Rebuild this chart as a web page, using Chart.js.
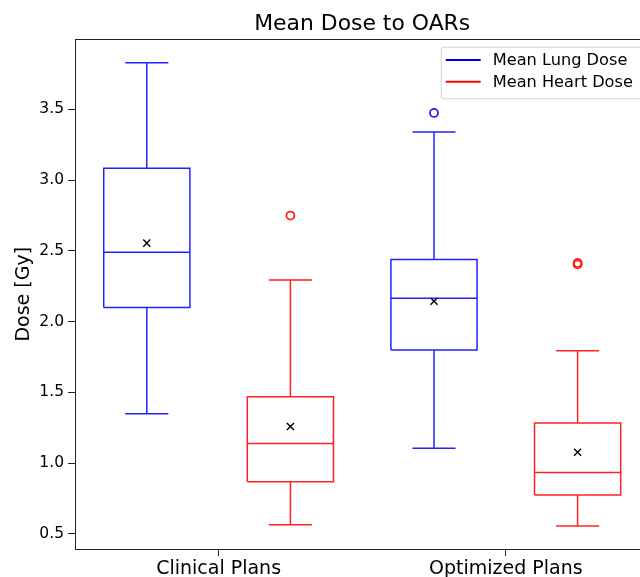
<!DOCTYPE html>
<html>
<head>
<meta charset="utf-8">
<script src="https://cdn.jsdelivr.net/npm/chart.js@4/dist/chart.umd.min.js"></script>
<style>
	body { margin: 0; overflow: hidden; background: #fff; }
	#wrap { position: absolute; left: 0; top: 0; width: 650px; height: 577px; }
</style>
</head>
<body>
<div id="wrap"><canvas id="mycanvas" width="650" height="577"></canvas></div>
<script>
var categories = ['Clinical Plans', 'Optimized Plans'];
var seriesNames = ['Mean Lung Dose', 'Mean Heart Dose'];
var yTicks = [0.5, 1.0, 1.5, 2.0, 2.5, 3.0, 3.5];

// box stats per category
var lungLow = [1.35, 1.105];
var lungQ1 = [2.10, 1.80];
var lungMedian = [2.49, 2.165];
var lungQ3 = [3.085, 2.44];
var lungHigh = [3.83, 3.34];
var lungMean = [2.555, 2.145];
var lungOutliers = [[], [3.475]];

var heartLow = [0.565, 0.557];
var heartQ1 = [0.87, 0.775];
var heartMedian = [1.14, 0.935];
var heartQ3 = [1.47, 1.285];
var heartHigh = [2.295, 1.795];
var heartMean = [1.26, 1.078];
var heartOutliers = [[2.75], [2.405, 2.415]];

var FONT = "'DejaVu Sans', sans-serif";
var BOX_W = 0.15;
var CAP_W = 0.075;

function boxOutline(low, q1, med, q3, high, offset) {
	var pts = [];
	for (var i = 0; i < categories.length; i++) {
		var p = i + 1 + offset;
		pts.push({x: p - BOX_W, y: q1[i]}, {x: p + BOX_W, y: q1[i]}, {x: p + BOX_W, y: q3[i]}, {x: p - BOX_W, y: q3[i]}, {x: p - BOX_W, y: q1[i]}, {x: p, y: null});
		pts.push({x: p - BOX_W, y: med[i]}, {x: p + BOX_W, y: med[i]}, {x: p, y: null});
		pts.push({x: p, y: q1[i]}, {x: p, y: low[i]}, {x: p, y: null});
		pts.push({x: p - CAP_W, y: low[i]}, {x: p + CAP_W, y: low[i]}, {x: p, y: null});
		pts.push({x: p, y: q3[i]}, {x: p, y: high[i]}, {x: p, y: null});
		pts.push({x: p - CAP_W, y: high[i]}, {x: p + CAP_W, y: high[i]}, {x: p, y: null});
	}
	return pts;
}

function points(values, offset) {
	var pts = [];
	for (var i = 0; i < categories.length; i++) {
		pts.push({x: i + 1 + offset, y: values[i]});
	}
	return pts;
}

function outlierPoints(list, offset) {
	var pts = [];
	for (var i = 0; i < list.length; i++) {
		for (var j = 0; j < list[i].length; j++) {
			pts.push({x: i + 1 + offset, y: list[i][j]});
		}
	}
	return pts;
}

function outlineSet(label, data, color, legendColor) {
	return {
		label: label, data: data, showLine: true, spanGaps: false, fill: false,
		borderColor: color, borderWidth: 1.5, pointRadius: 0, pointHitRadius: 0,
		borderJoinStyle: 'miter', legendColor: legendColor
	};
}

var framePlugin = {
	id: 'frame',
	afterDatasetsDraw: function(chart) {
		var a = chart.chartArea, ctx = chart.ctx;
		ctx.save();
		ctx.strokeStyle = '#222';
		ctx.lineWidth = 1;
		ctx.strokeRect(Math.round(a.left) + 0.5, Math.round(a.top) + 0.5, Math.round(a.right - a.left), Math.round(a.bottom - a.top));
		ctx.restore();
	}
};

var legendPlugin = {
	id: 'boxLegend',
	afterDraw: function(chart) {
		var a = chart.chartArea, ctx = chart.ctx;
		var sets = chart.data.datasets.filter(function(d) { return d.legendColor; });
		var right = a.right - 8.4, top = a.top + 7.2;
		var left = 440.7, rowH = 21.7;
		var h = 51.6;
		ctx.save();
		ctx.fillStyle = 'rgba(255,255,255,0.8)';
		ctx.strokeStyle = '#d0d0d0';
		ctx.lineWidth = 1;
		ctx.beginPath();
		ctx.roundRect(left + 0.5, top + 0.5, right - left, h, 3);
		ctx.fill();
		ctx.stroke();
		ctx.font = '16.2px ' + FONT;
		ctx.textBaseline = 'middle';
		ctx.fillStyle = '#000';
		for (var i = 0; i < sets.length; i++) {
			var y = top + 13.3 + i * rowH;
			ctx.strokeStyle = sets[i].legendColor;
			ctx.lineWidth = 2;
			ctx.beginPath();
			ctx.moveTo(left + 5, y);
			ctx.lineTo(left + 40, y);
			ctx.stroke();
			ctx.fillText(sets[i].label, left + 52, y + 1);
		}
		ctx.restore();
	}
};

var datasets = [
	outlineSet(seriesNames[0], boxOutline(lungLow, lungQ1, lungMedian, lungQ3, lungHigh, -0.25), 'rgba(10,10,255,0.9)', '#0000dd'),
	outlineSet(seriesNames[1], boxOutline(heartLow, heartQ1, heartMedian, heartQ3, heartHigh, 0.25), 'rgba(255,10,10,0.9)', '#ff0000'),
	{
		label: 'lung outliers', data: outlierPoints(lungOutliers, -0.25), pointStyle: 'circle', pointRadius: 4,
		backgroundColor: 'rgba(0,0,0,0)', borderColor: 'rgba(10,10,255,0.9)', borderWidth: 1.8
	},
	{
		label: 'heart outliers', data: outlierPoints(heartOutliers, 0.25), pointStyle: 'circle', pointRadius: 4,
		backgroundColor: 'rgba(0,0,0,0)', borderColor: 'rgba(255,10,10,0.9)', borderWidth: 1.8
	},
	{
		label: 'means', data: points(lungMean, -0.25).concat(points(heartMean, 0.25)), pointStyle: 'crossRot',
		pointRadius: 5, borderColor: '#000', borderWidth: 1.4
	}
];

var ctx = document.getElementById('mycanvas');
var boxChart = new Chart(ctx, {
	type: 'scatter',
	data: { datasets: datasets },
	plugins: [framePlugin, legendPlugin],
	options: {
		responsive: false,
		animation: false,
		layout: { autoPadding: false, padding: { left: 0, right: 0.6, top: 0, bottom: 0 } },
		plugins: {
			legend: { display: false },
			tooltip: { enabled: false },
			title: {
				display: true, text: 'Mean Dose to OARs', color: '#000', fullSize: false,
				font: { family: FONT, size: 21.9, weight: 'normal' },
				padding: { top: 11, bottom: 2.2 }
			}
		},
		scales: {
			x: {
				type: 'linear', min: 0.5, max: 2.5,
				afterBuildTicks: function(s) {
					s.ticks = categories.map(function(c, i) { return { value: i + 1 }; });
				},
				afterFit: function(s) { s.height = 28; },
				ticks: {
					callback: function(v) { return categories[Math.round(v) - 1]; },
					font: { family: FONT, size: 19 }, color: '#000', padding: 2, maxRotation: 0, autoSkip: false
				},
				grid: { drawOnChartArea: false, tickLength: 7, color: '#222' },
				border: { display: false }
			},
			y: {
				min: 0.394, max: 3.994,
				afterBuildTicks: function(s) {
					s.ticks = yTicks.map(function(v) { return { value: v }; });
				},
				afterFit: function(s) { s.width = 75; },
				ticks: {
					callback: function(v) { return v.toFixed(1); },
					font: { family: FONT, size: 15.5 }, color: '#000', padding: 4
				},
				grid: { drawOnChartArea: false, tickLength: 7, color: '#222' },
				border: { display: false },
				title: {
					display: true, text: 'Dose [Gy]', color: '#000',
					font: { family: FONT, size: 19 }, padding: { top: 13, bottom: 0 }
				}
			}
		}
	}
});
</script>
</body>
</html>
